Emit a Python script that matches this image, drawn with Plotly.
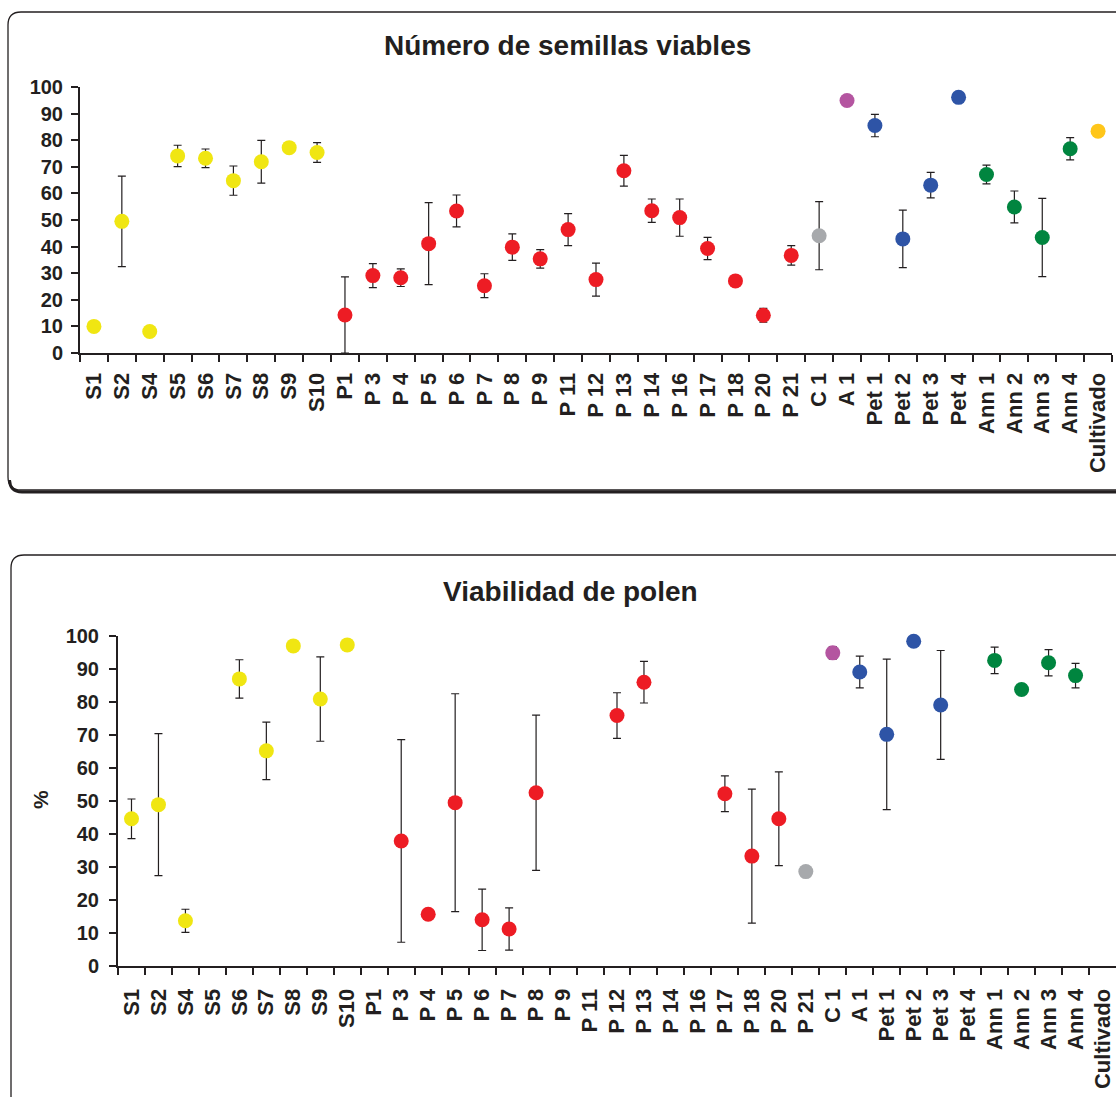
import plotly.graph_objects as go

# ---------------- data ----------------
categories = ["S1", "S2", "S4", "S5", "S6", "S7", "S8", "S9", "S10",
              "P1", "P 3", "P 4", "P 5", "P 6", "P 7", "P 8", "P 9", "P 11", "P 12",
              "P 13", "P 14", "P 16", "P 17", "P 18", "P 20", "P 21",
              "C 1", "A 1", "Pet 1", "Pet 2", "Pet 3", "Pet 4",
              "Ann 1", "Ann 2", "Ann 3", "Ann 4", "Cultivado"]

# Número de semillas viables
seeds_vals = [10, 49.5, 8.1, 74.1, 73.2, 64.8, 71.9, 77.2, 75.4,
              14.3, 29.1, 28.3, 41.1, 53.4, 25.3, 39.8, 35.4, 46.4, 27.6,
              68.5, 53.5, 50.9, 39.3, 27.1, 14.2, 36.7,
              44.1, 94.9, 85.5, 42.9, 63.1, 96.1,
              67.1, 54.9, 43.4, 76.8, 83.4]
seeds_err = [0, 17, 0, 4, 3.5, 5.5, 8, 0, 3.7,
             14.3, 4.5, 3.3, 15.4, 6, 4.5, 5, 3.5, 6, 6.2,
             5.8, 4.4, 7, 4.2, 0, 2.6, 3.7,
             12.8, 0, 4.2, 10.8, 4.8, 0,
             3.5, 6, 14.7, 4.2, 0]
seeds_group = ["S"] * 9 + ["P"] * 17 + ["C", "A", "Pet", "Pet", "Pet", "Pet",
                                        "Ann", "Ann", "Ann", "Ann", "Cult"]

# Viabilidad de polen (%)
pollen_vals = [44.6, 48.9, 13.7, None, 87, 65.2, 97, 80.9, 97.3,
               None, 37.9, 15.7, 49.5, 14.0, 11.2, 52.5, None, None, 75.9,
               86.0, None, None, 52.2, 33.3, 44.6, 28.6,
               94.9, 89.1, 70.2, 98.4, 79.1, None,
               92.6, 83.8, 91.9, 88.0, None]
pollen_err = [6, 21.5, 3.5, 0, 5.8, 8.7, 0, 12.8, 0,
              0, 30.7, 0, 33, 9.3, 6.4, 23.5, 0, 0, 6.9,
              6.3, 0, 0, 5.4, 20.3, 14.2, 0,
              1.9, 4.8, 22.8, 0, 16.5, 0,
              4, 0, 4, 3.7, 0]
pollen_group = ["S"] * 9 + ["P"] * 16 + ["C", "A", "Pet", "Pet", "Pet", "Pet", "Pet",
                                         "Ann", "Ann", "Ann", "Ann", "Cult"]

yticks = [0, 10, 20, 30, 40, 50, 60, 70, 80, 90, 100]

# ---------------- style ----------------
palette = {"S": "#F0E612", "P": "#ED1C24", "C": "#A7A9AC", "A": "#B455A0",
           "Pet": "#2E54A6", "Ann": "#00853F", "Cult": "#FFC61A"}
INK = "#231F20"
FONT = "Liberation Sans, Arial, sans-serif"
W, H = 1116, 1097


def px(x):
    return x / W


def py(y):
    return 1 - y / H


fig = go.Figure()

fig.add_trace(go.Scatter(
    x=categories, y=seeds_vals, mode="markers", xaxis="x", yaxis="y",
    marker=dict(size=15, color=[palette[g] for g in seeds_group], line=dict(width=0)),
    error_y=dict(type="data", array=seeds_err, color=INK, thickness=1.2, width=4),
    cliponaxis=False, showlegend=False))

fig.add_trace(go.Scatter(
    x=categories, y=pollen_vals, mode="markers", xaxis="x2", yaxis="y2",
    marker=dict(size=15, color=[palette[g] for g in pollen_group], line=dict(width=0)),
    error_y=dict(type="data", array=pollen_err, color=INK, thickness=1.2, width=4),
    cliponaxis=False, showlegend=False))


def xaxis_style(standoff):
    return dict(type="category", categoryorder="array", categoryarray=categories,
                range=[-0.5, len(categories) - 0.5], tickson="boundaries",
                ticks="outside", ticklen=7, tickwidth=2, tickcolor=INK,
                showline=True, linewidth=2, linecolor=INK, showgrid=False,
                tickangle=-90, ticklabelstandoff=standoff,
                tickfont=dict(family=FONT, size=22, color=INK, weight="bold"),
                automargin=False, fixedrange=True)


def yaxis_style(standoff):
    return dict(range=[0, 100], tickvals=yticks, ticks="outside", ticklen=7, tickwidth=2,
                tickcolor=INK, showline=True, linewidth=2, linecolor=INK, showgrid=False,
                zeroline=False, ticklabelstandoff=standoff,
                tickfont=dict(family=FONT, size=20, color=INK, weight="bold"),
                automargin=False, fixedrange=True)


fig.update_layout(
    width=W, height=H, autosize=False,
    margin=dict(l=0, r=0, t=0, b=0, pad=0, autoexpand=False),
    paper_bgcolor="white", plot_bgcolor="white",
    xaxis=dict(domain=[px(80), px(1112)], anchor="y", **xaxis_style(9)),
    yaxis=dict(domain=[py(353), py(87)], anchor="x", **yaxis_style(4)),
    xaxis2=dict(domain=[px(118), 1.0], anchor="y2", **xaxis_style(12)),
    yaxis2=dict(domain=[py(966), py(636)], anchor="x2", **yaxis_style(6)),
)

# titles and % label
fig.add_annotation(x=px(567), y=py(46), xref="paper", yref="paper",
                   text="Número de semillas viables", showarrow=False,
                   xanchor="center", yanchor="middle",
                   font=dict(family=FONT, size=28, color=INK, weight="bold"))
fig.add_annotation(x=px(570), y=py(591), xref="paper", yref="paper",
                   text="Viabilidad de polen", showarrow=False,
                   xanchor="center", yanchor="middle",
                   font=dict(family=FONT, size=28, color=INK, weight="bold"))
fig.add_annotation(x=px(40), y=py(800), xref="paper", yref="paper",
                   text="%", showarrow=False, textangle=-90,
                   xanchor="center", yanchor="middle",
                   font=dict(family=FONT, size=21, color=INK, weight="bold"))


def P(x, y):
    return f"{px(x):.5f},{py(y):.5f}"


# rounded frames with shadow
r = 13
top_box = (f"M {P(1130, 12)} L {P(8 + r, 12)} Q {P(8, 12)} {P(8, 12 + r)} "
           f"L {P(8, 490 - r)} Q {P(8, 490)} {P(8 + r, 490)} L {P(1130, 490)}")
top_shadow = (f"M {P(9.5, 480)} Q {P(10, 492)} {P(8 + r + 1, 492)} L {P(1130, 492)}")
bot_box = (f"M {P(1130, 555)} L {P(11 + r, 555)} Q {P(11, 555)} {P(11, 555 + r)} "
           f"L {P(11, 1110)}")
fig.add_shape(type="path", path=top_shadow, xref="paper", yref="paper",
              line=dict(color=INK, width=3), layer="below")
fig.add_shape(type="path", path=top_box, xref="paper", yref="paper",
              line=dict(color=INK, width=1.3), layer="below")
fig.add_shape(type="path", path=bot_box, xref="paper", yref="paper",
              line=dict(color=INK, width=1.3), layer="below")

fig.write_html("out.html", config={"displayModeBar": False},
               post_script="document.body.style.margin='0';document.body.style.padding='0';")
